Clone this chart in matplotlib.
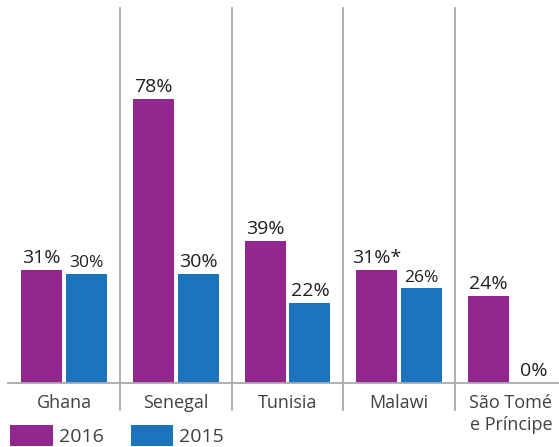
import matplotlib.pyplot as plt
import numpy as np

countries = ["Ghana", "Senegal", "Tunisia", "Malawi", "São Tomé\ne Príncipe"]
values_2016 = [31, 78, 39, 31, 24]
values_2015 = [30, 30, 22, 26, 0]
labels_2016 = ["31%", "78%", "39%", "31%*", "24%"]
labels_2015 = ["30%", "30%", "22%", "26%", "0%"]
# some 2015 labels are set smaller in the original
small_2015 = [True, False, False, True, False]

purple = "#92278f"
blue = "#1c75bc"
grid_col = "#a7a9ac"
text_col = "#231f20"

plt.rcParams["font.family"] = ["Open Sans", "DejaVu Sans"]

fig = plt.figure(figsize=(5.59, 4.47), dpi=100)
# the last group runs slightly past the right edge of the image
ax = fig.add_axes([8.3 / 559, (447 - 383) / 447, 558.5 / 559, 375 / 447])

x = np.arange(len(countries))
w = 0.367
off = 0.2
b1 = ax.bar(x - off, values_2016, w, color=purple, label="2016")
b2 = ax.bar(x + off, values_2015, w, color=blue, label="2015")

for rect, lab in zip(b1, labels_2016):
    ax.annotate(lab, (rect.get_x() + rect.get_width() / 2, rect.get_height()),
                xytext=(0, 2), textcoords="offset points", ha="center", va="bottom",
                fontsize=14, color=text_col)
for rect, lab, sm in zip(b2, labels_2015, small_2015):
    ax.annotate(lab, (rect.get_x() + rect.get_width() / 2, rect.get_height()),
                xytext=(0, 2), textcoords="offset points", ha="center", va="bottom",
                fontsize=12.5 if sm else 14, color=text_col)

ax.set_xlim(-0.5, len(countries) - 0.5)
ax.set_ylim(0, 103)

# group separators running down past the baseline
for s in np.arange(0.5, len(countries) - 0.5, 1):
    ax.axvline(s, ymin=-0.072, ymax=1, color=grid_col, lw=1.3, clip_on=False)

for side in ["left", "right", "top"]:
    ax.spines[side].set_visible(False)
ax.spines["bottom"].set_color(grid_col)
ax.spines["bottom"].set_linewidth(1.3)
ax.set_yticks([])
ax.set_xticks(x)
ax.set_xticklabels(countries, fontsize=13, color="#414042", linespacing=1.3)
ax.tick_params(axis="x", length=0, pad=8)

fig.legend(handles=[b1, b2], labels=["2016", "2015"], loc="upper left",
           bbox_to_anchor=(10 / 559, 1 - 425 / 447), ncol=2, frameon=False,
           fontsize=14, handlelength=2.2, handleheight=1.3, handletextpad=0.3,
           columnspacing=1.4, borderpad=0, borderaxespad=0, labelcolor="#414042")

fig.savefig("out.png", dpi=100)
